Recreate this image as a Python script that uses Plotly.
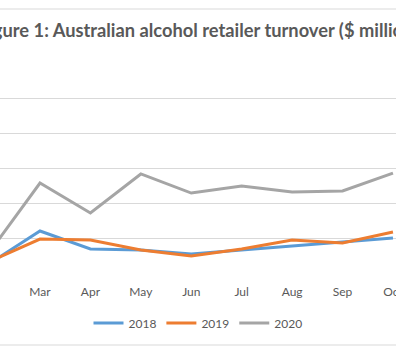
import plotly.graph_objects as go

months = ["Feb", "Mar", "Apr", "May", "Jun", "Jul", "Aug", "Sep", "Oct"]
turnover_2018 = [854, 1040, 937, 931, 909, 931, 954, 977, 1000]
turnover_2019 = [866, 994, 989, 931, 897, 937, 989, 971, 1034]
turnover_2020 = [920, 1314, 1143, 1366, 1257, 1297, 1263, 1269, 1371]

series = [("2018", turnover_2018, "#5B9BD5"),
          ("2019", turnover_2019, "#ED7D31"),
          ("2020", turnover_2020, "#A5A5A5")]

fig = go.Figure()
for name, vals, col in series:
    fig.add_trace(go.Scatter(x=months, y=vals, name=name, mode="lines",
                             line=dict(color=col, width=3)))

H_PLOT = 210.0
def py(px):
    return (273 - px) / H_PLOT

fig.update_layout(
    width=396, height=356,
    margin=dict(l=0, r=0, t=63, b=83, autoexpand=False),
    paper_bgcolor="white", plot_bgcolor="white",
    font=dict(family="Lato, Open Sans, sans-serif", color="#595959", size=12),
    title=dict(text="<b>Figure 1: Australian alcohol retailer turnover ($ million)</b>",
               x=0.5, xanchor="center", xref="paper",
               y=1 - 31/356, yanchor="middle",
               font=dict(size=18.3, color="#595959")),
    xaxis=dict(type="category", range=[0.207, 8.06], showgrid=False, automargin=False,
               showline=False, zeroline=False, ticks="", ticklabelstandoff=10,
               tickfont=dict(size=12, color="#595959")),
    yaxis=dict(range=[800, 2000], dtick=200, showgrid=True, gridcolor="#D9D9D9",
               automargin=False,
               gridwidth=1, showticklabels=False, zeroline=False, showline=False),
    legend=dict(orientation="h", x=0.5, xanchor="center", y=py(323), yanchor="middle",
                font=dict(size=12, color="#595959"), itemwidth=30),
    showlegend=True,
    shapes=[
        dict(type="line", xref="paper", yref="paper", x0=0, x1=1, y0=py(9), y1=py(9),
             line=dict(color="#D9D9D9", width=1)),
        dict(type="line", xref="paper", yref="paper", x0=0, x1=1, y0=py(345), y1=py(345),
             line=dict(color="#D9D9D9", width=1)),
    ],
)

fig.write_html("out.html", config={"displayModeBar": False},
               post_script="document.body.style.margin='0';document.body.style.overflow='hidden';")
